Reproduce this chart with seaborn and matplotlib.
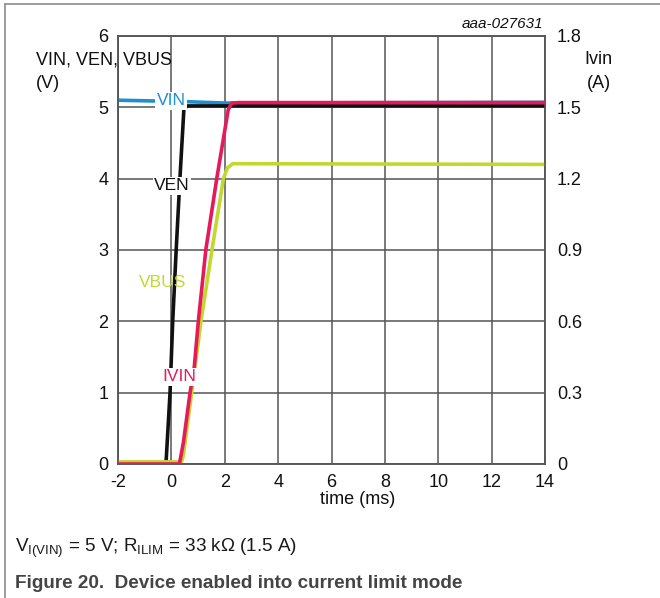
import numpy as np
import pandas as pd
import matplotlib
matplotlib.use("Agg")
import matplotlib.pyplot as plt
import seaborn as sns
from matplotlib.lines import Line2D

# ---------------- data ----------------
vin_t = [-2.0, 0.5, 2.0, 14.0]
vin_v = [5.10, 5.08, 5.06, 5.07]

ven_t = [-2.0, -0.20, -0.05, 0.05, 0.18, 0.32, 0.47, 0.60, 14.0]
ven_v = [0.02, 0.02, 1.0, 2.0, 3.0, 4.0, 4.98, 5.02, 5.02]

vbus_t = [-2.0, 0.38, 0.45, 0.76, 1.11, 1.52, 1.95, 2.10, 2.30, 14.0]
vbus_v = [0.03, 0.03, 0.12, 1.0, 2.0, 3.0, 4.0, 4.15, 4.21, 4.20]

ivin_t = [-2.0, 0.30, 0.45, 0.70, 0.86, 1.01, 1.29, 1.70, 2.13, 2.26, 2.50, 14.0]
ivin_a = [0.0, 0.0, 0.09, 0.30, 0.41, 0.60, 0.90, 1.20, 1.49, 1.518, 1.52, 1.52]

x_ticks = [-2, 0, 2, 4, 6, 8, 10, 12, 14]
yl_ticks = [0, 1, 2, 3, 4, 5, 6]
yr_ticks = [0, 0.3, 0.6, 0.9, 1.2, 1.5, 1.8]
yr_labels = ["0", "0.3", "0.6", "0.9", "1.2", "1.5", "1.8"]

C_VIN = "#1e8fd2"
C_VEN = "#111111"
C_VBUS = "#c3d82f"
C_IVIN = "#e6195b"

# ---------------- style ----------------
sns.set_style("white")
plt.rcParams['font.family'] = ['Liberation Sans', 'DejaVu Sans']
plt.rcParams['mathtext.fontset'] = 'custom'
plt.rcParams['mathtext.rm'] = 'Liberation Sans'
plt.rcParams['mathtext.it'] = 'Liberation Sans:italic'
plt.rcParams['mathtext.bf'] = 'Liberation Sans:bold'

W, H = 660, 598
fig = plt.figure(figsize=(W / 100, H / 100), dpi=100)

def fx(x):
    return x / W

def fy(y):
    return 1 - y / H

L, R, T, B = 118, 545, 36, 464
ax = fig.add_axes([fx(L), fy(B), (R - L) / W, (B - T) / H])
ax2 = ax.twinx()

df_vin = pd.DataFrame({"t": vin_t, "v": vin_v})
df_ven = pd.DataFrame({"t": ven_t, "v": ven_v})
df_vbus = pd.DataFrame({"t": vbus_t, "v": vbus_v})
df_ivin = pd.DataFrame({"t": ivin_t, "a": ivin_a})

lw = 2.6
sns.lineplot(data=df_vin, x="t", y="v", ax=ax, color=C_VIN, lw=lw, sort=False, zorder=3)
sns.lineplot(data=df_ven, x="t", y="v", ax=ax, color=C_VEN, lw=lw, sort=False, zorder=4)
sns.lineplot(data=df_vbus, x="t", y="v", ax=ax, color=C_VBUS, lw=lw, sort=False, zorder=5)
sns.lineplot(data=df_ivin, x="t", y="a", ax=ax2, color=C_IVIN, lw=lw, sort=False, zorder=3)

gcol = "#555555"
ax.set_xlim(-2, 14)
ax.set_ylim(0, 6)
ax2.set_ylim(0, 1.8)
ax.set_xticks(x_ticks)
ax.set_xticklabels([str(v) for v in x_ticks])
ax.set_yticks(yl_ticks)
ax.set_yticklabels([str(v) for v in yl_ticks])
ax2.set_yticks(yr_ticks)
ax2.set_yticklabels(yr_labels)
ax.grid(True, color=gcol, lw=1.1)
ax.set_axisbelow(True)
ax.set_xlabel("")
ax.set_ylabel("")
ax2.set_ylabel("")
for a in (ax, ax2):
    for s in a.spines.values():
        s.set_color(gcol)
        s.set_linewidth(1.1)
ax.tick_params(axis="x", length=0, pad=7, labelsize=13, colors="#111111")
ax.tick_params(axis="y", length=0, pad=7, labelsize=13, colors="#111111")
ax2.tick_params(axis="y", length=0, pad=8.5, labelsize=13, colors="#111111")

# curve labels (placed on top of all traces)
box = dict(facecolor="white", edgecolor="none", pad=1.0)
ax2.text(-0.01, 5.09, "VIN", transform=ax.transData, color=C_VIN, fontsize=12.5,
         ha="center", va="center", bbox=box, zorder=10)
ax2.text(0.02, 3.90, "VEN", transform=ax.transData, color=C_VEN, fontsize=12.5,
         ha="center", va="center", bbox=box, zorder=10)
ax2.text(-0.31, 2.54, "VBUS", transform=ax.transData, color=C_VBUS, fontsize=12.5,
         ha="center", va="center", zorder=10)
ax2.text(0.31, 1.22, "IVIN", transform=ax.transData, color=C_IVIN, fontsize=12.5,
         ha="center", va="center", bbox=box, zorder=10)

# axis titles
fig.text(fx(36), fy(60), "VIN, VEN, VBUS", fontsize=13, ha="left", va="center", color="#111111")
fig.text(fx(36), fy(83), "(V)", fontsize=13, ha="left", va="center", color="#111111")
fig.text(fx(598), fy(60), "Ivin", fontsize=13, ha="center", va="center", color="#111111")
fig.text(fx(599), fy(83), "(A)", fontsize=13, ha="center", va="center", color="#111111")
fig.text(fx(358), fy(500), "time (ms)", fontsize=13, ha="center", va="center", color="#111111")
fig.text(fx(543), fy(24), "aaa-027631", fontsize=11, style="italic", ha="right", va="center",
         color="#111111")

# captions
fig.text(fx(15), fy(552), r"V$_{\mathregular{I(VIN)}}$ = 5 V; R$_{\mathregular{ILIM}}$ = 33 kΩ (1.5 A)",
         fontsize=13.6, ha="left", va="baseline", color="#1a1a1a")
fig.text(fx(15), fy(588), "Figure 20.  Device enabled into current limit mode", fontsize=13.6,
         fontweight="bold", ha="left", va="baseline", color="#444444")

# outer frame (top and left edges)
fig.add_artist(Line2D([fx(5), 1.0], [fy(4), fy(4)], color="#8c8c8c", lw=1.2))
fig.add_artist(Line2D([fx(5), fx(5)], [fy(4), 0.0], color="#8c8c8c", lw=1.2))

fig.savefig("out.png", dpi=100)
